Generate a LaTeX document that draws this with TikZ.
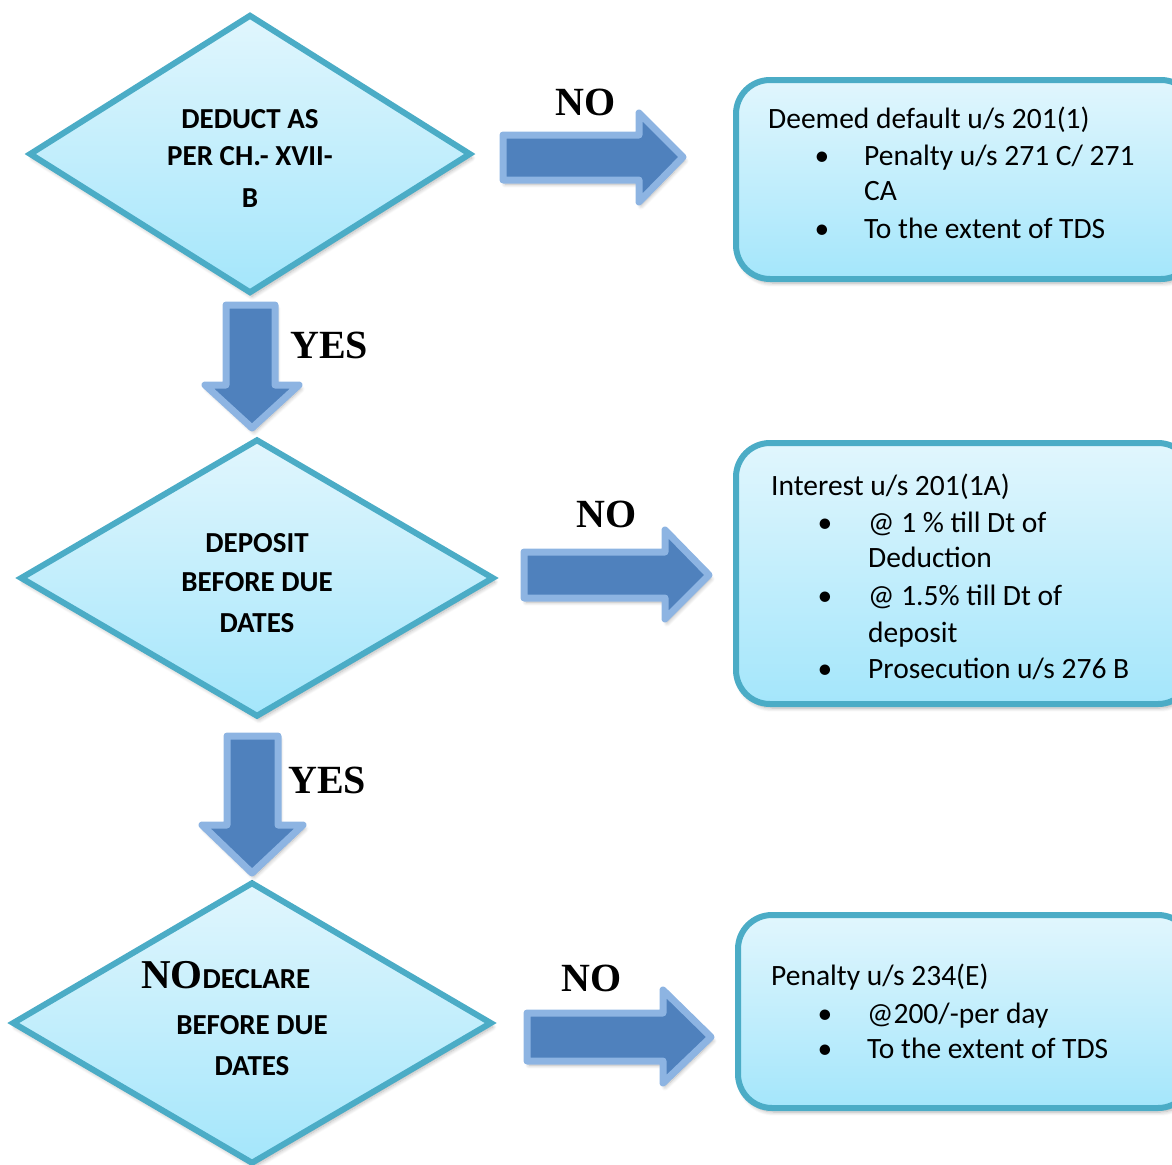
\documentclass[tikz,border=0pt]{standalone}
\usepackage{fontspec}
\setmainfont{Carlito}
\newfontfamily\tnr{Liberation Serif}
\usetikzlibrary{shapes.geometric,shadows.blur}

\definecolor{edge}{HTML}{4BACC6}
\definecolor{filltop}{HTML}{E1F6FD}
\definecolor{fillbot}{HTML}{A4E6FB}
\definecolor{arrowfill}{HTML}{4F81BD}
\definecolor{arrowedge}{HTML}{8DB4E2}

\begin{document}
\begin{tikzpicture}[x=1pt,y=-1pt,
  softshadow/.style={blur shadow={shadow blur steps=8, shadow xshift=2pt,
      shadow yshift=-4pt, shadow opacity=30, shadow blur radius=4pt}},
  decision/.style={shape=diamond, draw=edge, line width=6pt,
      top color=filltop, bottom color=fillbot, inner sep=0pt, softshadow},
  outcome/.style={rectangle, rounded corners=34pt, draw=edge, line width=6pt,
      top color=filltop, bottom color=fillbot, inner sep=0pt, softshadow},
  blockarrow/.style={fill=arrowfill, draw=arrowedge, line width=7pt,
      line join=round, softshadow},
  dtext/.style={font=\fontsize{29}{34}\selectfont\bfseries, anchor=base, inner sep=0pt},
  btext/.style={font=\fontsize{29.5}{34}\selectfont, anchor=base west, inner sep=0pt},
  bul/.style={font=\fontsize{29.5}{34}\selectfont, anchor=base, inner sep=0pt},
  answer/.style={font=\fontsize{40}{44}\selectfont\tnr\bfseries, anchor=base west, inner sep=0pt}]

\useasboundingbox (0,0) rectangle (1172,1164);
\clip (0,0) rectangle (1172,1164);

% decisions
\node[decision, minimum width=442pt, minimum height=279pt] (d1) at (250,154) {};
\node[decision, minimum width=474pt, minimum height=278pt] (d2) at (257,578) {};
\node[decision, minimum width=480pt, minimum height=282pt] (d3) at (252,1023) {};

% outcomes
\node[outcome, minimum width=459pt, minimum height=199pt] (b1) at (965.5,179.5) {};
\node[outcome, minimum width=456pt, minimum height=261pt] (b2) at (964,573.5) {};
\node[outcome, minimum width=454pt, minimum height=193pt] (b3) at (965,1011.5) {};

% block arrows: NO branches
\draw[blockarrow] (503,135) -- (639,135) -- (639,113) -- (683,157) -- (639,202)
  -- (639,180) -- (503,180) -- cycle;
\draw[blockarrow] (524,552) -- (665,552) -- (665,530) -- (709,575) -- (665,619)
  -- (665,598) -- (524,598) -- cycle;
\draw[blockarrow] (527,1013) -- (663,1013) -- (663,990) -- (711,1037) -- (663,1083)
  -- (663,1061) -- (527,1061) -- cycle;

% block arrows: YES branches
\draw[blockarrow] (226,305) -- (275,305) -- (275,385) -- (299,385) -- (252,428)
  -- (205,385) -- (226,385) -- cycle;
\draw[blockarrow] (227,736) -- (278,736) -- (278,825) -- (303,825) -- (252,873)
  -- (202,825) -- (227,825) -- cycle;

% branch labels
\node[answer] (n1) at (555,115) {NO};
\node[answer] (n2) at (576,527) {NO};
\node[answer] (n3) at (561,991) {NO};
\node[answer] (y1) at (290,358) {YES};
\node[answer] (y2) at (288,793) {YES};

% decision texts
\node[dtext] (d1a) at (250,128) {DEDUCT AS};
\node[dtext] (d1b) at (250,165) {PER CH.- XVII-};
\node[dtext] (d1c) at (250,207) {B};

\node[dtext] (d2a) at (257,552) {DEPOSIT};
\node[dtext] (d2b) at (257,591) {BEFORE DUE};
\node[dtext] (d2c) at (257,632) {DATES};

\node[dtext, anchor=base west] (d3a) at (141,988)
  {{\fontsize{41}{44}\selectfont\tnr\bfseries NO}DECLARE};
\node[dtext] (d3b) at (252,1034) {BEFORE DUE};
\node[dtext] (d3c) at (252,1075) {DATES};

% outcome texts
\node[btext] (b1t) at (768,128) {Deemed default u/s 201(1)};
\node[bul] (b1u1) at (822,165) {\textbullet};
\node[btext] (b1i1) at (864,165) {Penalty u/s 271 C/ 271};
\node[btext] (b1i1b) at (864,200) {CA};
\node[bul] (b1u2) at (822,238) {\textbullet};
\node[btext] (b1i2) at (864,238) {To the extent of TDS};

\node[btext] (b2t) at (771,495) {Interest u/s 201(1A)};
\node[bul] (b2u1) at (825,532) {\textbullet};
\node[btext] (b2i1) at (868,532) {@ 1 \% till Dt of};
\node[btext] (b2i1b) at (868,567) {Deduction};
\node[bul] (b2u2) at (825,605) {\textbullet};
\node[btext] (b2i2) at (868,605) {@ 1.5\% till Dt of};
\node[btext] (b2i2b) at (868,642) {deposit};
\node[bul] (b2u3) at (825,678) {\textbullet};
\node[btext] (b2i3) at (868,678) {Prosecution u/s 276 B};

\node[btext] (b3t) at (771,985) {Penalty u/s 234(E)};
\node[bul] (b3u1) at (825,1023) {\textbullet};
\node[btext] (b3i1) at (867,1023) {@200/-per day};
\node[bul] (b3u2) at (825,1058) {\textbullet};
\node[btext] (b3i2) at (867,1058) {To the extent of TDS};
\end{tikzpicture}
\end{document}
